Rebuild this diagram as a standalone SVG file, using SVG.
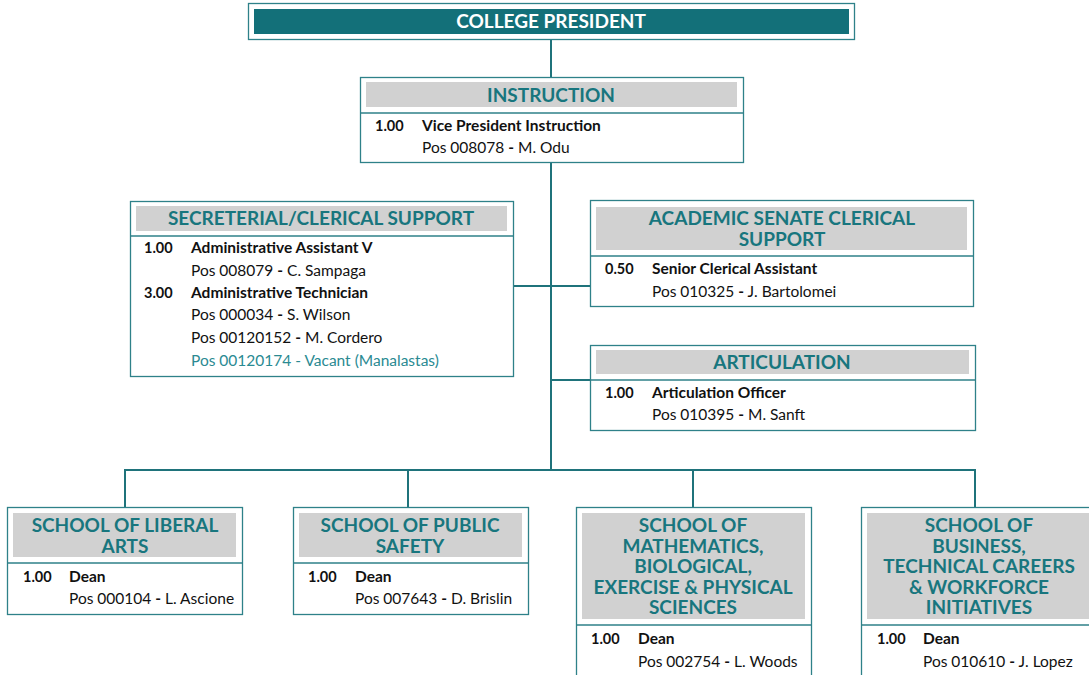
<svg xmlns="http://www.w3.org/2000/svg" width="1089" height="675" viewBox="0 0 1089 675">
<style>
.box{fill:#fff;stroke:#2e8189;stroke-width:1.3}
.hdr{fill:#d1d1d1}
.sep{stroke:#2e8189;stroke-width:1.5}
.ttl{font-family:Lato,"Open Sans",sans-serif;font-weight:bold;font-size:19px;fill:#18767e;text-anchor:middle}
.num{font-family:Lato,"Open Sans",sans-serif;font-weight:bold;font-size:14.5px;fill:#111}
.role{font-family:Lato,"Open Sans",sans-serif;font-weight:bold;font-size:15.5px;fill:#111}
.pos{font-family:Lato,"Open Sans",sans-serif;font-size:15.5px;fill:#111}
.vac{font-family:Lato,"Open Sans",sans-serif;font-size:15.5px;fill:#2a8a92}
.conn{stroke:#1f737b;stroke-width:2;fill:none}
</style>
<rect width="1089" height="675" fill="#fff"/>
<g id="connectors">
<path class="conn" d="M551 39V77M551 162V470M513 286H590M551 380H590M125 507V470H975V507M408 470V507M693 470V507"/>
</g>
<g id="college-president">
<rect class="box" x="248.5" y="3.5" width="606" height="36"/>
<rect x="254" y="9" width="595" height="25" fill="#137079"/>
<text class="ttl" x="551" y="28" style="fill:#fff">COLLEGE PRESIDENT</text>
</g>
<g id="instruction">
<rect class="box" x="360.5" y="77.5" width="383" height="85"/>
<rect class="hdr" x="366" y="82" width="371" height="25"/>
<line class="sep" x1="360" y1="113" x2="744" y2="113"/>
<text class="ttl" x="551" y="102">INSTRUCTION</text>
<text class="num" x="375" y="131">1.00</text>
<text class="role" x="422" y="131">Vice President Instruction</text>
<text class="pos" x="422" y="153">Pos 008078 <tspan font-weight="bold">-</tspan> M. Odu</text>
</g>
<g id="secretarial">
<rect class="box" x="130.5" y="201.5" width="383" height="175"/>
<rect class="hdr" x="136" y="206" width="371" height="25"/>
<line class="sep" x1="130" y1="236" x2="514" y2="236"/>
<text class="ttl" x="321" y="225">SECRETERIAL/CLERICAL SUPPORT</text>
<text class="num" x="144" y="253">1.00</text>
<text class="role" x="191" y="253">Administrative Assistant V</text>
<text class="pos" x="191" y="276">Pos 008079 <tspan font-weight="bold">-</tspan> C. Sampaga</text>
<text class="num" x="144" y="298">3.00</text>
<text class="role" x="191" y="298">Administrative Technician</text>
<text class="pos" x="191" y="320">Pos 000034 <tspan font-weight="bold">-</tspan> S. Wilson</text>
<text class="pos" x="191" y="343">Pos 00120152 <tspan font-weight="bold">-</tspan> M. Cordero</text>
<text class="vac" x="191" y="366">Pos 00120174 - Vacant (Manalastas)</text>
</g>
<g id="academic-senate">
<rect class="box" x="590.5" y="200.5" width="383" height="106"/>
<rect class="hdr" x="596" y="207" width="371" height="43"/>
<line class="sep" x1="590" y1="256" x2="974" y2="256"/>
<text class="ttl" x="782" y="225">ACADEMIC SENATE CLERICAL</text>
<text class="ttl" x="782" y="246">SUPPORT</text>
<text class="num" x="605" y="274">0.50</text>
<text class="role" x="652" y="274">Senior Clerical Assistant</text>
<text class="pos" x="652" y="297">Pos 010325 <tspan font-weight="bold">-</tspan> J. Bartolomei</text>
</g>
<g id="articulation">
<rect class="box" x="590.5" y="345.5" width="385" height="85"/>
<rect class="hdr" x="596" y="350" width="373" height="24"/>
<line class="sep" x1="590" y1="380" x2="976" y2="380"/>
<text class="ttl" x="782" y="369">ARTICULATION</text>
<text class="num" x="605" y="398">1.00</text>
<text class="role" x="652" y="398">Articulation Officer</text>
<text class="pos" x="652" y="420">Pos 010395 <tspan font-weight="bold">-</tspan> M. Sanft</text>
</g>
<g id="liberal-arts">
<rect class="box" x="7.5" y="507.5" width="235" height="107"/>
<rect class="hdr" x="13" y="513" width="223" height="44"/>
<line class="sep" x1="7" y1="563" x2="243" y2="563"/>
<text class="ttl" x="125" y="532">SCHOOL OF LIBERAL</text>
<text class="ttl" x="125" y="553">ARTS</text>
<text class="num" x="23" y="582">1.00</text>
<text class="role" x="69" y="582">Dean</text>
<text class="pos" x="69" y="604">Pos 000104 <tspan font-weight="bold">-</tspan> L. Ascione</text>
</g>
<g id="public-safety">
<rect class="box" x="293.5" y="507.5" width="235" height="107"/>
<rect class="hdr" x="299" y="513" width="223" height="44"/>
<line class="sep" x1="293" y1="563" x2="529" y2="563"/>
<text class="ttl" x="410" y="532">SCHOOL OF PUBLIC</text>
<text class="ttl" x="410" y="553">SAFETY</text>
<text class="num" x="308" y="582">1.00</text>
<text class="role" x="355" y="582">Dean</text>
<text class="pos" x="355" y="604">Pos 007643 <tspan font-weight="bold">-</tspan> D. Brislin</text>
</g>
<g id="math-sciences">
<rect class="box" x="576.5" y="507.5" width="235" height="175"/>
<rect class="hdr" x="582" y="513" width="223" height="106"/>
<line class="sep" x1="576" y1="625" x2="812" y2="625"/>
<text class="ttl" x="693" y="532">SCHOOL OF</text>
<text class="ttl" x="693" y="553">MATHEMATICS,</text>
<text class="ttl" x="693" y="573">BIOLOGICAL,</text>
<text class="ttl" x="693" y="594">EXERCISE &amp; PHYSICAL</text>
<text class="ttl" x="693" y="614">SCIENCES</text>
<text class="num" x="591" y="644">1.00</text>
<text class="role" x="638" y="644">Dean</text>
<text class="pos" x="638" y="667">Pos 002754 <tspan font-weight="bold">-</tspan> L. Woods</text>
</g>
<g id="business">
<rect class="box" x="861.5" y="507.5" width="240" height="175"/>
<rect class="hdr" x="867" y="513" width="230" height="106"/>
<line class="sep" x1="861" y1="625" x2="1089" y2="625"/>
<text class="ttl" x="979" y="532">SCHOOL OF</text>
<text class="ttl" x="979" y="553">BUSINESS,</text>
<text class="ttl" x="979" y="573">TECHNICAL CAREERS</text>
<text class="ttl" x="979" y="594">&amp; WORKFORCE</text>
<text class="ttl" x="979" y="614">INITIATIVES</text>
<text class="num" x="877" y="644">1.00</text>
<text class="role" x="923" y="644">Dean</text>
<text class="pos" x="923" y="667">Pos 010610 <tspan font-weight="bold">-</tspan> J. Lopez</text>
</g>
</svg>
